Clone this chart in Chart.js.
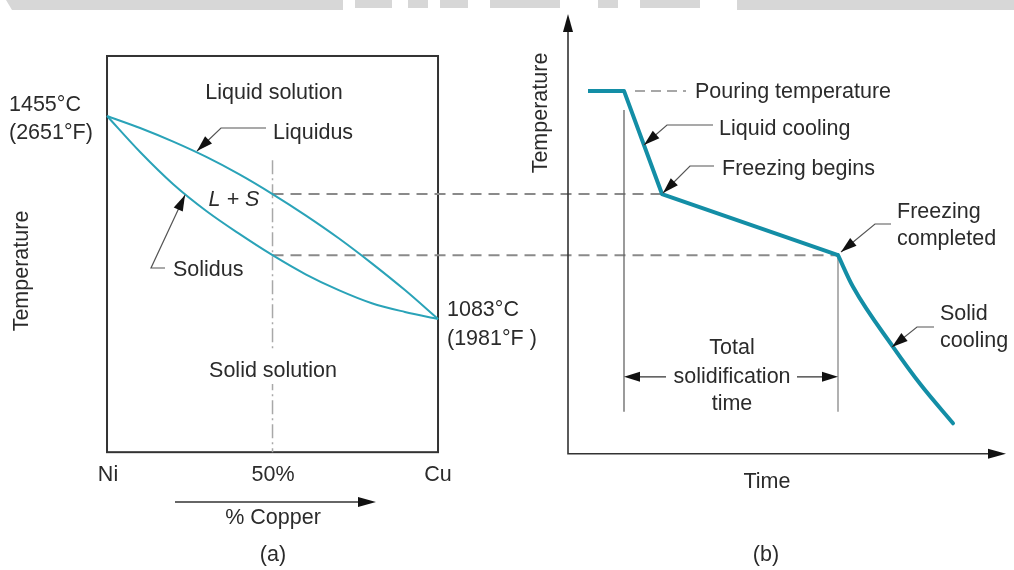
<!DOCTYPE html>
<html>
<head>
<meta charset="utf-8">
<script src="https://cdn.jsdelivr.net/npm/chart.js@4.4.0/dist/chart.umd.min.js"></script>
<style>
  body { margin: 0; background: #fff; }
  #wrap { width: 1014px; height: 570px; }
</style>
</head>
<body>
<div id="wrap"><canvas id="chart" width="1014" height="570"></canvas></div>
<script>
// (a) Ni-Cu phase diagram, temperatures in deg C
var copperPct = [0, 10, 20, 30, 40, 50, 60, 70, 80, 90, 100];
var liquidusC = [1455, 1433, 1408, 1380, 1348, 1312, 1273, 1231, 1185, 1136, 1083];
var solidusC  = [1455, 1389, 1330, 1281, 1239, 1200, 1165, 1136, 1112, 1096, 1083];
var alloyPct = 50;

// (b) cooling curve of the 50% alloy (arbitrary time units)
var coolTime  = [5, 14, 23.5, 67.5];
var coolTemp  = [1501, 1501, 1312, 1200];
var solidTime = [67.5, 71.25, 81.25, 88.25, 96.25];
var solidTemp = [1200, 1142, 1032, 962, 892];
var pourEndTime = 14;
var freezeEndTime = 67.5;

// frame / axis extents in data units
var frameTop = 1565, frameBottom = 839;
var axisTop = 1642, axisBottom = 836, timeEnd = 109.5;
var markerBottom = 913, spanTemp = 977;

function pts(xs, ys) {
  var out = [];
  for (let i = 0; i < xs.length; i++) out.push({x: xs[i], y: ys[i]});
  return out;
}

var teal = '#2aa3b8';
var tealDark = '#138ea6';
var ink = '#2b2b2b';
var FONT = '"Liberation Sans", Arial, sans-serif';

function arrowHead(ctx, x1, y1, x2, y2, len, half) {
  var a = Math.atan2(y2 - y1, x2 - x1);
  var c = Math.cos(a), s = Math.sin(a);
  ctx.beginPath();
  ctx.moveTo(x2, y2);
  ctx.lineTo(x2 - len * c + half * s, y2 - len * s - half * c);
  ctx.lineTo(x2 - len * c - half * s, y2 - len * s + half * c);
  ctx.closePath();
  ctx.fill();
}

function leader(ctx, p) {
  ctx.strokeStyle = '#555';
  ctx.lineWidth = 1.2;
  ctx.beginPath();
  ctx.moveTo(p[0][0], p[0][1]);
  for (let i = 1; i < p.length; i++) ctx.lineTo(p[i][0], p[i][1]);
  ctx.stroke();
  var n = p.length;
  ctx.fillStyle = '#111';
  arrowHead(ctx, p[n - 2][0], p[n - 2][1], p[n - 1][0], p[n - 1][1], 16, 5);
}

var figurePlugin = {
  id: 'figure',
  beforeDatasetsDraw: function(chart) {
    var ctx = chart.ctx;
    var x = chart.scales.x, xt = chart.scales.xt, y = chart.scales.y;
    ctx.save();

    // grey banner at the top
    ctx.fillStyle = '#d7d7d7';
    ctx.beginPath();
    ctx.moveTo(6, 0); ctx.lineTo(343, 0); ctx.lineTo(343, 10); ctx.lineTo(12, 10);
    ctx.closePath(); ctx.fill();
    ctx.fillRect(737, 0, 277, 10);
    [[355, 392], [408, 428], [440, 468], [490, 560], [598, 618], [640, 700]].forEach(function(r) {
      ctx.fillRect(r[0], 0, r[1] - r[0], 8);
    });

    // frame of (a)
    ctx.strokeStyle = '#333';
    ctx.lineWidth = 2;
    ctx.strokeRect(x.getPixelForValue(0), y.getPixelForValue(frameTop),
      x.getPixelForValue(100) - x.getPixelForValue(0),
      y.getPixelForValue(frameBottom) - y.getPixelForValue(frameTop));

    // dashed guides from the 50% alloy to the cooling curve
    var i50 = copperPct.indexOf(alloyPct);
    ctx.strokeStyle = '#8a8a8a';
    ctx.lineWidth = 2;
    ctx.setLineDash([11, 7]);
    ctx.beginPath();
    ctx.moveTo(x.getPixelForValue(alloyPct), y.getPixelForValue(liquidusC[i50]));
    ctx.lineTo(xt.getPixelForValue(coolTime[2]), y.getPixelForValue(liquidusC[i50]));
    ctx.moveTo(x.getPixelForValue(alloyPct), y.getPixelForValue(solidusC[i50]));
    ctx.lineTo(xt.getPixelForValue(freezeEndTime), y.getPixelForValue(solidusC[i50]));
    ctx.stroke();
    // pouring temperature dashes
    ctx.setLineDash([10, 6]);
    ctx.lineWidth = 1.5;
    ctx.beginPath();
    ctx.moveTo(xt.getPixelForValue(16.75), y.getPixelForValue(coolTemp[0]));
    ctx.lineTo(xt.getPixelForValue(29.5), y.getPixelForValue(coolTemp[0]));
    ctx.stroke();
    ctx.setLineDash([]);

    // axes of (b)
    var ox = xt.getPixelForValue(0), oy = y.getPixelForValue(axisBottom);
    var topY = y.getPixelForValue(axisTop), endX = xt.getPixelForValue(timeEnd);
    ctx.strokeStyle = '#333';
    ctx.lineWidth = 1.6;
    ctx.beginPath();
    ctx.moveTo(ox, topY + 10); ctx.lineTo(ox, oy); ctx.lineTo(endX - 10, oy);
    ctx.stroke();
    ctx.fillStyle = '#111';
    arrowHead(ctx, ox, oy, ox, topY, 18, 5);
    arrowHead(ctx, ox, oy, endX, oy, 18, 5);

    ctx.restore();
  },
  afterDatasetsDraw: function(chart) {
    var ctx = chart.ctx;
    var xt = chart.scales.xt, y = chart.scales.y;
    ctx.save();
    ctx.fillStyle = ink;
    ctx.textBaseline = 'alphabetic';
    ctx.font = '21.5px ' + FONT;

    function t(s, px, py, align) { ctx.textAlign = align || 'center'; ctx.fillText(s, px, py); }

    // gap in the 50% line behind the label
    ctx.fillStyle = '#fff';
    ctx.fillRect(205, 352, 136, 32);
    ctx.fillStyle = ink;

    // (a)
    t('Liquid solution', 274, 99);
    t('Liquidus', 273, 139, 'left');
    t('1455\u00b0C', 9, 111, 'left');
    t('(2651\u00b0F)', 9, 139, 'left');
    t('Solidus', 173, 276, 'left');
    t('Solid solution', 273, 377);
    t('Ni', 108, 481);
    t('50%', 273, 481);
    t('Cu', 438, 481);
    t('% Copper', 273, 524);
    t('(a)', 273, 561);
    t('1083\u00b0C', 447, 316, 'left');
    t('(1981\u00b0F )', 447, 345, 'left');
    ctx.font = 'italic 21.5px ' + FONT;
    t('L + S', 234, 206);
    ctx.font = '21.5px ' + FONT;

    // (b)
    t('Pouring temperature', 695, 98, 'left');
    t('Liquid cooling', 719, 135, 'left');
    t('Freezing begins', 722, 175, 'left');
    t('Freezing', 897, 218, 'left');
    t('completed', 897, 245, 'left');
    t('Solid', 940, 320, 'left');
    t('cooling', 940, 347, 'left');
    t('Total', 732, 354);
    t('solidification', 732, 383);
    t('time', 732, 410);
    t('Time', 767, 488);
    t('(b)', 766, 561);

    // rotated axis titles
    ctx.save();
    ctx.translate(28, 271); ctx.rotate(-Math.PI / 2);
    t('Temperature', 0, 0);
    ctx.restore();
    ctx.save();
    ctx.translate(547, 113); ctx.rotate(-Math.PI / 2);
    t('Temperature', 0, 0);
    ctx.restore();

    // callouts
    leader(ctx, [[266, 128], [221, 128], [197, 151]]);
    leader(ctx, [[165, 268], [151, 268], [185, 195]]);
    leader(ctx, [[713, 125], [667, 125], [644, 145]]);
    leader(ctx, [[714, 166], [690, 166], [663, 193]]);
    leader(ctx, [[891, 224], [875, 224], [841, 252]]);
    leader(ctx, [[934, 327], [917, 327], [892, 347]]);

    // % Copper arrow
    ctx.strokeStyle = '#333';
    ctx.lineWidth = 1.5;
    ctx.beginPath(); ctx.moveTo(175, 502); ctx.lineTo(362, 502); ctx.stroke();
    ctx.fillStyle = '#111';
    arrowHead(ctx, 175, 502, 376, 502, 18, 5);

    // total solidification time span
    var a = xt.getPixelForValue(pourEndTime), b = xt.getPixelForValue(freezeEndTime);
    var sy = y.getPixelForValue(spanTemp);
    ctx.strokeStyle = '#333';
    ctx.lineWidth = 1.3;
    ctx.beginPath();
    ctx.moveTo(a + 8, sy); ctx.lineTo(666, sy);
    ctx.moveTo(797, sy); ctx.lineTo(b - 8, sy);
    ctx.stroke();
    ctx.fillStyle = '#111';
    arrowHead(ctx, 666, sy, a, sy, 16, 5);
    arrowHead(ctx, 797, sy, b, sy, 16, 5);

    ctx.restore();
  }
};

var ctx = document.getElementById('chart').getContext('2d');
var myChart = new Chart(ctx, {
  type: 'line',
  data: {
    datasets: [
      { xAxisID: 'x', data: pts(copperPct, liquidusC), borderColor: teal, borderWidth: 2,
        cubicInterpolationMode: 'monotone', order: 0 },
      { xAxisID: 'x', data: pts(copperPct, solidusC), borderColor: teal, borderWidth: 2,
        cubicInterpolationMode: 'monotone', order: 0 },
      { xAxisID: 'xt', data: pts(coolTime, coolTemp), borderColor: tealDark, borderWidth: 4,
        tension: 0, borderJoinStyle: 'round', order: 0 },
      { xAxisID: 'xt', data: pts(solidTime, solidTemp), borderColor: tealDark, borderWidth: 4,
        cubicInterpolationMode: 'monotone', borderCapStyle: 'round', order: 0 },
      { xAxisID: 'x', data: [{x: alloyPct, y: 1374}, {x: alloyPct, y: frameBottom}],
        borderColor: '#a8a8a8', borderWidth: 1.5, borderDash: [14, 4, 2, 4], order: 2 },
      { xAxisID: 'xt', data: [{x: pourEndTime, y: 1466}, {x: pourEndTime, y: markerBottom}],
        borderColor: '#666', borderWidth: 1.3, order: 2 },
      { xAxisID: 'xt', data: [{x: freezeEndTime, y: solidusC[5]}, {x: freezeEndTime, y: markerBottom}],
        borderColor: '#888', borderWidth: 1.3, order: 2 }
    ]
  },
  options: {
    responsive: false,
    animation: false,
    layout: { padding: 0 },
    elements: { point: { radius: 0 }, line: { fill: false } },
    plugins: { legend: { display: false }, tooltip: { enabled: false } },
    scales: {
      x:  { type: 'linear', axis: 'x', min: -32.33, max: 274.01, display: false },
      xt: { type: 'linear', axis: 'x', min: -142, max: 111.5, display: false },
      y:  { type: 'linear', min: 623.1, max: 1667.6, display: false }
    }
  },
  plugins: [figurePlugin]
});
</script>
</body>
</html>
